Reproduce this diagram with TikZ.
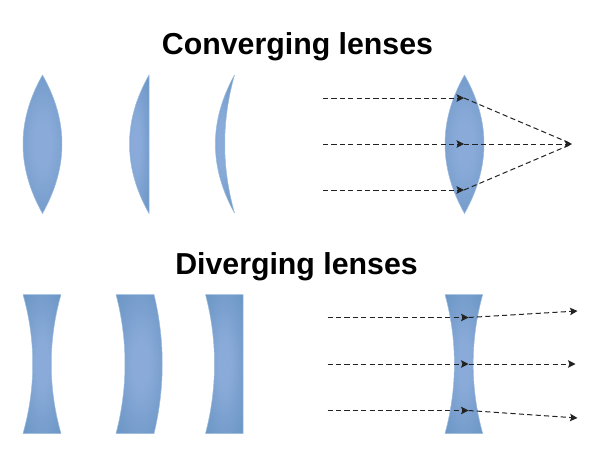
\documentclass[tikz,border=0pt]{standalone}
\usepackage{fontspec}
\setmainfont{Liberation Sans}
\usetikzlibrary{arrows.meta}
\definecolor{lensin}{HTML}{8AABD9}
\definecolor{lensmid}{HTML}{799FCE}
\definecolor{lensout}{HTML}{6A96C4}
\definecolor{lensedge}{HTML}{9DBCDD}
\definecolor{rayc}{HTML}{222222}
\pgfdeclareradialshading{lensglow}{\pgfpoint{0bp}{0bp}}{
 color(0bp)=(lensin); color(8bp)=(lensin); color(22bp)=(lensmid); color(36bp)=(lensout); color(50bp)=(lensout)}
\tikzset{
 lens/.style={shading=lensglow,draw=lensedge,line width=0.5pt,line join=round},
 ray/.style={draw=rayc,line width=1pt,dash pattern=on 5.2pt off 3.2pt},
 rayin/.style={ray,-{Stealth[length=7.5pt,width=7.5pt,inset=1.5pt]}},
 title/.style={font=\bfseries\fontsize{30.3}{33}\selectfont,text=black,inner sep=0pt,anchor=center}
}
\newcommand{\biconvex}[1]{\shade[lens] (#1,75) .. controls (#1-26,121) and (#1-26,167) .. (#1,213.5) .. controls (#1+26,167) and (#1+26,121) .. (#1,75) -- cycle;}
\begin{document}
\begin{tikzpicture}[x=1pt,y=-1pt]
\useasboundingbox (0,0) rectangle (600,466);
\node[title] (t1) at (297.5,47) {Converging lenses};
\node[title] (t2) at (296.5,266.5) {Diverging lenses};
% converging lenses
\biconvex{42.5}
\shade[lens] (149,75) .. controls (123,121) and (123,167) .. (149,213.5) -- cycle;
\shade[lens] (234.5,75) .. controls (209,121) and (209,167) .. (234.5,213) .. controls (221.5,167) and (221.5,121) .. (234.5,75) -- cycle;
\biconvex{464.5}
% diverging lenses
\shade[lens] (23,294.5) -- (61,294.5) .. controls (48,340) and (48,388) .. (61,433.5) -- (23,433.5) .. controls (36,388) and (36,340) .. (23,294.5) -- cycle;
\shade[lens] (116,294.5) -- (154,294.5) .. controls (165,340) and (165,388) .. (154,433.5) -- (116,433.5) .. controls (128,388) and (128,340) .. (116,294.5) -- cycle;
\shade[lens] (205.5,294.5) -- (243,294.5) -- (243,433.5) -- (205.5,433.5) .. controls (217.5,388) and (217.5,340) .. (205.5,294.5) -- cycle;
\shade[lens] (445,294.5) -- (482.7,294.5) .. controls (470,340) and (470,388) .. (482.7,433.5) -- (445,433.5) .. controls (457.5,388) and (457.5,340) .. (445,294.5) -- cycle;
% converging rays
\coordinate (ca) at (323,98);
\coordinate (cb) at (323,144);
\coordinate (cc) at (323,190);
\coordinate (la) at (464,98);
\coordinate (lb) at (464,144);
\coordinate (lc) at (464,190);
\coordinate (f) at (572,144);
\draw[rayin] (ca) -- (la);
\draw[rayin] (cb) -- (lb);
\draw[rayin] (cc) -- (lc);
\draw[ray] (la) -- (f);
\draw[ray] (lc) -- (f);
\draw[rayin] (lb) -- (f);
% diverging rays
\coordinate (da) at (327.5,317.5);
\coordinate (db) at (327.5,364);
\coordinate (dc) at (327.5,410.5);
\coordinate (ma) at (468.5,317.5);
\coordinate (mb) at (468.5,364);
\coordinate (mc) at (468.5,410.5);
\coordinate (oa) at (577.5,311);
\coordinate (ob) at (575.5,364);
\coordinate (oc) at (577.5,418);
\draw[rayin] (da) -- (ma);
\draw[rayin] (db) -- (mb);
\draw[rayin] (dc) -- (mc);
\draw[rayin] (ma) -- (oa);
\draw[rayin] (mb) -- (ob);
\draw[rayin] (mc) -- (oc);
\end{tikzpicture}
\end{document}
